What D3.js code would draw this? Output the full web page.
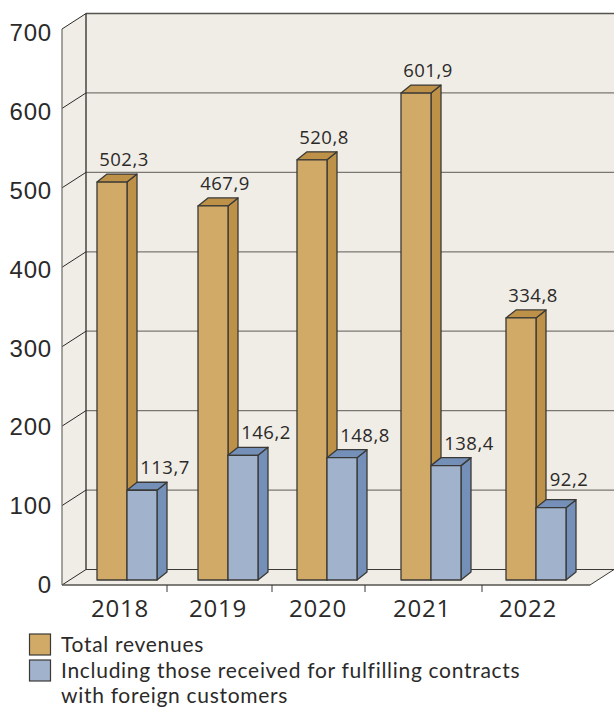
<!DOCTYPE html>
<html>
<head>
<meta charset="UTF-8">
<style>
body{
	margin: 0;
	background: #fff;
}
svg{
	display: block;
	font-family: "Open Sans", sans-serif;
	fill: #2b2a29;
}
.axis path{
	display: none;
}
.axis line{
	stroke: #55534f;
}
.axis text{
	font-size: 24px;
	letter-spacing: 0.8px;
	fill: #2b2a29;
}
.bar-label{
	font-size: 18.5px;
	letter-spacing: 0.5px;
	text-anchor: middle;
}
.legend-label{
	font-family: Lato, sans-serif;
	font-size: 21px;
	letter-spacing: 0.7px;
}
</style>
<script src="https://cdn.jsdelivr.net/npm/d3@7"></script>
</head>
<body>
<script>
var years = ["2018", "2019", "2020", "2021", "2022"];
var yTicks = [0, 100, 200, 300, 400, 500, 600, 700];

// printed labels
var totalLabels = ["502,3", "467,9", "520,8", "601,9", "334,8"];
var foreignLabels = ["113,7", "146,2", "148,8", "138,4", "92,2"];

// bar heights as read against the axis, the source art does not follow its labels exactly
var totalValues = [501, 471, 529, 613, 330];
var foreignValues = [113, 157, 154, 144, 91];

var legendLines = [["Total revenues"], ["Including those received for fulfilling contracts", "with foreign customers"]];

var width = 614, height = 708;
var left = 62, wallDx = 24, wallDy = -15.5, floorRight = 590;
var barWidth = 30, sideDx = 10, sideDy = -8, floorInset = 5;

var gold = {front: "#d2aa68", side: "#bd9148", top: "#bd9148"};
var blue = {front: "#a1b2cd", side: "#7590b8", top: "#7590b8"};

var y = d3.scaleLinear().domain([0, 700]).range([585, 29]);
// tick labels sit a little tighter than the gridlines in the source
var yLabel = d3.scaleLinear().domain([0, 700]).range([585, 33]);

// the columns in the source are not evenly spaced
var x = d3.scaleOrdinal().domain(years).range([97, 198, 297, 401, 506]);
var yearX = d3.scaleOrdinal().domain(years).range([120, 218, 318, 422, 528]);
var tickX = [167, 272, 365, 482];

var svg = d3.select("body").append("svg")
	.attr("width", width)
	.attr("height", height);

function pts(list){
	return list.map(function(p){ return p.join(","); }).join(" ");
}

// walls and floor
svg.append("polygon")
	.attr("points", pts([[left, y(700)], [left + wallDx, y(700) + wallDy], [width, y(700) + wallDy], [width, y(0) + wallDy], [floorRight, y(0)], [left, y(0)]]))
	.attr("fill", "#f0ede6");

var grid = svg.append("g");
grid.selectAll("line.back")
	.data(yTicks.filter(function(d){ return d > 0 && d < 700; }))
	.enter().append("line")
	.attr("class", "back")
	.attr("x1", left + wallDx)
	.attr("x2", width)
	.attr("y1", function(d){ return y(d) + wallDy; })
	.attr("y2", function(d){ return y(d) + wallDy; })
	.attr("stroke", "#7a7771")
	.attr("stroke-width", 1.2);

grid.append("line")
	.attr("x1", left + wallDx).attr("x2", width)
	.attr("y1", y(700) + wallDy).attr("y2", y(700) + wallDy)
	.attr("stroke", "#55534f").attr("stroke-width", 1.3);

grid.append("line")
	.attr("x1", left + wallDx).attr("x2", width)
	.attr("y1", y(0) + wallDy).attr("y2", y(0) + wallDy)
	.attr("stroke", "#3a3936").attr("stroke-width", 1.2);

grid.selectAll("line.side")
	.data(yTicks)
	.enter().append("line")
	.attr("class", "side")
	.attr("x1", left)
	.attr("x2", left + wallDx)
	.attr("y1", function(d){ return y(d); })
	.attr("y2", function(d){ return y(d) + wallDy; })
	.attr("stroke", "#2b2a29")
	.attr("stroke-width", 1);

grid.append("line")
	.attr("x1", left).attr("x2", left)
	.attr("y1", y(700)).attr("y2", y(0))
	.attr("stroke", "#77746e").attr("stroke-width", 1.3);

grid.append("line")
	.attr("x1", left + wallDx).attr("x2", left + wallDx)
	.attr("y1", y(700) + wallDy).attr("y2", y(0) + wallDy)
	.attr("stroke", "#2b2a29").attr("stroke-width", 1.3);

grid.append("line")
	.attr("x1", floorRight).attr("x2", width)
	.attr("y1", y(0)).attr("y2", y(0) + wallDy)
	.attr("stroke", "#3a3936").attr("stroke-width", 1);

// bars
function drawBars(values, offset, colors){
	var g = svg.append("g");
	var bar = g.selectAll("g")
		.data(values)
		.enter().append("g");

	function x0(d, i){ return x(years[i]) + offset; }
	function top(d){ return y(d) - floorInset; }

	bar.append("polygon")
		.attr("points", function(d, i){
			var a = x0(d, i) + barWidth, t = top(d), b = y(0) - floorInset;
			return pts([[a, t], [a + sideDx, t + sideDy], [a + sideDx, b + sideDy], [a, b]]);
		})
		.attr("fill", colors.side);

	bar.append("polygon")
		.attr("points", function(d, i){
			var a = x0(d, i), t = top(d);
			return pts([[a, t], [a + sideDx, t + sideDy], [a + barWidth + sideDx, t + sideDy], [a + barWidth, t]]);
		})
		.attr("fill", colors.top);

	bar.append("rect")
		.attr("x", x0)
		.attr("y", top)
		.attr("width", barWidth)
		.attr("height", function(d){ return y(0) - floorInset - top(d); })
		.attr("fill", colors.front);

	bar.selectAll("polygon, rect")
		.attr("stroke", "#3a3936")
		.attr("stroke-width", 1.3)
		.attr("stroke-linejoin", "round");
}

drawBars(totalValues, 0, gold);
drawBars(foreignValues, barWidth, blue);

// value labels
svg.append("g").selectAll("text")
	.data(totalLabels)
	.enter().append("text")
	.attr("class", "bar-label")
	.attr("x", function(d, i){ return x(years[i]) + 27; })
	.attr("y", function(d, i){ return y(totalValues[i]) - floorInset - 16; })
	.text(function(d){ return d; });

svg.append("g").selectAll("text")
	.data(foreignLabels)
	.enter().append("text")
	.attr("class", "bar-label")
	.attr("x", function(d, i){ return x(years[i]) + (i == 4 ? 63 : 68); })
	.attr("y", function(d, i){ return y(foreignValues[i]) - floorInset - (i == 4 ? 22 : 16); })
	.text(function(d){ return d; });

// y axis
svg.append("g")
	.attr("class", "y axis")
	.attr("transform", "translate(" + (left - 10) + ",0)")
	.call(d3.axisLeft(yLabel).tickValues(yTicks).tickFormat(d3.format("d")).tickSize(0).tickPadding(0));

// x axis
var xAxisY = y(0);
svg.append("line")
	.attr("x1", left).attr("x2", floorRight)
	.attr("y1", xAxisY).attr("y2", xAxisY)
	.attr("stroke", "#55534f").attr("stroke-width", 1.4);

svg.append("g").selectAll("line")
	.data(tickX)
	.enter().append("line")
	.attr("x1", function(d){ return d; })
	.attr("x2", function(d){ return d; })
	.attr("y1", xAxisY)
	.attr("y2", xAxisY + 7)
	.attr("stroke", "#3a3936");

svg.append("g").attr("class", "axis").selectAll("text")
	.data(years)
	.enter().append("text")
	.attr("x", function(d){ return yearX(d); })
	.attr("y", 617)
	.attr("text-anchor", "middle")
	.text(function(d){ return d; });

// legend
var legendColors = [gold.front, blue.front];
var legendTop = [634, 660];

var legend = svg.append("g").selectAll("g")
	.data(legendLines)
	.enter().append("g");

legend.append("rect")
	.attr("x", 29.5)
	.attr("y", function(d, i){ return legendTop[i]; })
	.attr("width", 21)
	.attr("height", 21)
	.attr("fill", function(d, i){ return legendColors[i]; })
	.attr("stroke", "#3a3936")
	.attr("stroke-width", 1.2);

legend.each(function(lines, i){
	d3.select(this).selectAll("text")
		.data(lines)
		.enter().append("text")
		.attr("class", "legend-label")
		.attr("x", 61)
		.attr("y", function(d, j){ return legendTop[i] + 18 - i * 0.5 + j * 25.5; })
		.text(function(d){ return d; });
});
</script>
</body>
</html>
